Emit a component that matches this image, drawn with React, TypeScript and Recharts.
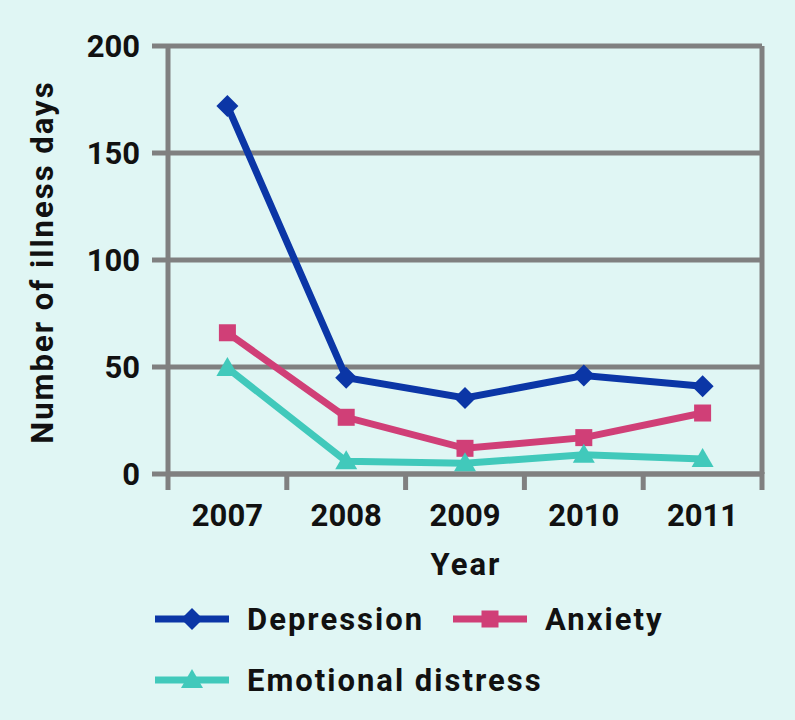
import React from "react";
import { LineChart, Line, XAxis, YAxis, CartesianGrid, ReferenceLine, Legend, Label } from "recharts";

const years = [2007, 2008, 2009, 2010, 2011];
const depression = [172, 45, 35.5, 46, 41];
const anxiety = [66, 26.5, 12, 17, 28.5];
const emotional = [49.5, 6, 5, 9, 7];
const yTicks = [0, 50, 100, 150, 200];
const seriesNames = ["Depression", "Anxiety", "Emotional distress"];

const COLORS = { dep: "#0b36a6", anx: "#d03f77", emo: "#41c9bb" };
const GRAY = "#808080";
const BG = "#e0f6f4";
const FONT = "Roboto, 'DejaVu Sans', sans-serif";

const data = years.map((y, i) => ({
  year: y,
  depression: depression[i],
  anxiety: anxiety[i],
  emotional: emotional[i],
}));

const xTicks: number[] = [years[0] - 0.5];
years.forEach((y) => {
  xTicks.push(y);
  xTicks.push(y + 0.5);
});

const Diamond = (props: any) => {
  const { cx, cy, fill } = props;
  if (cx == null || cy == null) return null;
  const r = 11;
  return <polygon points={`${cx},${cy - r} ${cx + r},${cy} ${cx},${cy + r} ${cx - r},${cy}`} fill={fill} />;
};
const Square = (props: any) => {
  const { cx, cy, fill } = props;
  if (cx == null || cy == null) return null;
  const s = 17;
  return <rect x={cx - s / 2} y={cy - s / 2} width={s} height={s} fill={fill} />;
};
const Triangle = (props: any) => {
  const { cx, cy, fill } = props;
  if (cx == null || cy == null) return null;
  return <polygon points={`${cx},${cy - 11} ${cx + 11},${cy + 8} ${cx - 11},${cy + 8}`} fill={fill} />;
};

const XTick = (props: any) => {
  const { x, y, payload } = props;
  const v = payload.value as number;
  if (Math.abs(v - Math.round(v)) > 0.01) {
    return <line x1={x} y1={y - 2} x2={x} y2={y + 16} stroke={GRAY} strokeWidth={5} />;
  }
  return (
    <text x={x} y={y + 52} textAnchor="middle" fontFamily={FONT} fontWeight={700} fontSize={31} fill="#111">
      {v}
    </text>
  );
};

const LegendContent = () => {
  const items = [
    { name: seriesNames[0], color: COLORS.dep, shape: "diamond", x: 155, y: 619, tx: 247 },
    { name: seriesNames[1], color: COLORS.anx, shape: "square", x: 453, y: 619, tx: 545 },
    { name: seriesNames[2], color: COLORS.emo, shape: "triangle", x: 155, y: 680, tx: 247 },
  ];
  const top = 590;
  return (
    <svg width={795} height={130} style={{ display: "block" }}>
      {items.map((it) => {
        const cx = it.x + 37;
        const cy = it.y - top;
        return (
          <g key={it.name}>
            <line x1={it.x} y1={cy} x2={it.x + 74} y2={cy} stroke={it.color} strokeWidth={7} />
            {it.shape === "diamond" && <Diamond cx={cx} cy={cy} fill={it.color} />}
            {it.shape === "square" && <Square cx={cx} cy={cy} fill={it.color} />}
            {it.shape === "triangle" && <Triangle cx={cx} cy={cy} fill={it.color} />}
            <text x={it.tx} y={cy + 11} fontFamily={FONT} fontWeight={700} fontSize={31} letterSpacing={2} fill="#111">
              {it.name}
            </text>
          </g>
        );
      })}
    </svg>
  );
};

export default function App() {
  return (
    <div style={{ position: "absolute", left: 0, top: 0, width: 795, height: 720, background: BG }}>
      <LineChart width={795} height={720} data={data} margin={{ top: 46, right: 33, left: 0, bottom: 146 }}>
        <CartesianGrid vertical={false} stroke={GRAY} strokeWidth={5} strokeOpacity={1} />
        <ReferenceLine x={years[years.length - 1] + 0.5} stroke={GRAY} strokeWidth={5} />
        <XAxis
          dataKey="year"
          type="number"
          domain={[years[0] - 0.5, years[years.length - 1] + 0.5]}
          ticks={xTicks}
          interval={0}
          height={100}
          tickLine={false}
          tickSize={0}
          tickMargin={0}
          axisLine={{ stroke: GRAY, strokeWidth: 5 }}
          tick={<XTick />}
        >
          <Label
            content={(p: any) => {
              const vb = p.viewBox || {};
              return (
                <text x={vb.x + vb.width / 2 + 1} y={575} textAnchor="middle" fontFamily={FONT} fontWeight={700} fontSize={31} letterSpacing={2} fill="#111">
                  Year
                </text>
              );
            }}
          />
        </XAxis>
        <YAxis
          domain={[0, 200]}
          ticks={yTicks}
          width={168}
          tickSize={16}
          tickMargin={12}
          axisLine={{ stroke: GRAY, strokeWidth: 5 }}
          tickLine={{ stroke: GRAY, strokeWidth: 5 }}
          tick={{ fontFamily: FONT, fontWeight: 700, fontSize: 31, fill: "#111" }}
        >
          <Label
            content={(p: any) => {
              const vb = p.viewBox || {};
              const cx = 53;
              const cy = vb.y + vb.height / 2 + 2;
              return (
                <text x={cx} y={cy} transform={`rotate(-90 ${cx} ${cy})`} textAnchor="middle" fontFamily={FONT} fontWeight={700} fontSize={31} letterSpacing={2} fill="#111">
                  Number of illness days
                </text>
              );
            }}
          />
        </YAxis>
        <Line type="linear" dataKey="depression" name={seriesNames[0]} stroke={COLORS.dep} strokeWidth={7} dot={<Diamond fill={COLORS.dep} />} activeDot={false} isAnimationActive={false} />
        <Line type="linear" dataKey="anxiety" name={seriesNames[1]} stroke={COLORS.anx} strokeWidth={7} dot={<Square fill={COLORS.anx} />} activeDot={false} isAnimationActive={false} />
        <Line type="linear" dataKey="emotional" name={seriesNames[2]} stroke={COLORS.emo} strokeWidth={7} dot={<Triangle fill={COLORS.emo} />} activeDot={false} isAnimationActive={false} />
        <Legend layout="vertical" align="center" verticalAlign="middle" wrapperStyle={{ top: 590, left: 0, width: 795 }} content={<LegendContent />} />
      </LineChart>
    </div>
  );
}
